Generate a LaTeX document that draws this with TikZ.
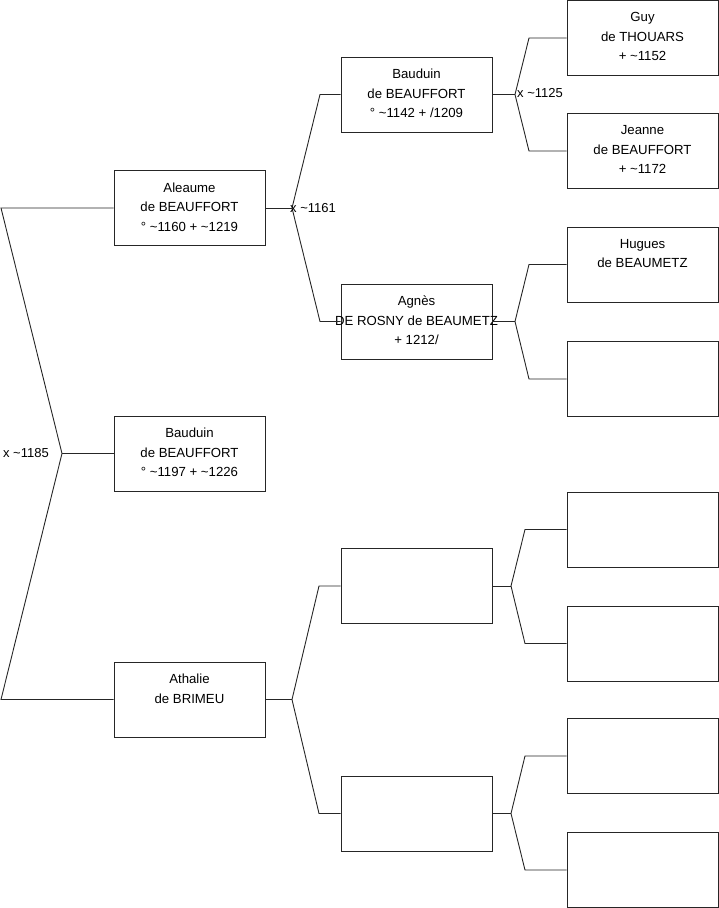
\documentclass[tikz,border=0pt]{standalone}
\usepackage{fontspec}
\setmainfont{Liberation Sans}
\newcommand{\tld}{\textasciitilde}

\begin{document}
\begin{tikzpicture}[x=1pt, y=-1pt,
    box/.style={draw=black!85, line width=0.9pt, minimum width=151pt,
                minimum height=75pt, inner sep=0pt},
    who/.style={anchor=north, align=center, yshift=-9pt,
                font=\fontsize{13.2}{19.5}\selectfont},
    link/.style={draw=black!85, line width=0.9pt},
    mar/.style={inner sep=0pt, font=\fontsize{13}{15}\selectfont}]
    \useasboundingbox (0,0) rectangle (719,908);
    \node[box, label={[who]north:{Aleaume\\de BEAUFFORT\\° \tld1160 + \tld1219}}] (aleaume) at (189.5,208) {};
    \node[box, label={[who]north:{Bauduin\\de BEAUFFORT\\° \tld1197 + \tld1226}}] (bauduin) at (189.5,453.5) {};
    \node[box, label={[who]north:{Athalie\\de BRIMEU}}] (athalie) at (189.5,699.5) {};
    \node[box, label={[who]north:{Bauduin\\de BEAUFFORT\\° \tld1142 + /1209}}] (bauduinP) at (416.5,94.5) {};
    \node[box, label={[who]north:{Agnès\\DE ROSNY de BEAUMETZ\\+ 1212/}}] (agnes) at (416.5,321.5) {};
    \node[box] (athF) at (416.5,586) {};
    \node[box] (athM) at (416.5,813.5) {};
    \node[box, label={[who]north:{Guy\\de THOUARS\\+ \tld1152}}] (guy) at (642.5,38) {};
    \node[box, label={[who]north:{Jeanne\\de BEAUFFORT\\+ \tld1172}}] (jeanne) at (642.5,151) {};
    \node[box, label={[who]north:{Hugues\\de BEAUMETZ}}] (hugues) at (642.5,264.5) {};
    \node[box] (agnM) at (642.5,379) {};
    \node[box] (athFF) at (642.5,529.5) {};
    \node[box] (athFM) at (642.5,643.5) {};
    \node[box] (athMF) at (642.5,756) {};
    \node[box] (athMM) at (642.5,870) {};

    \coordinate (j0) at (62,453.5);
    \coordinate (j0a) at (1,208);
    \coordinate (j0b) at (1,699.5);
    \coordinate (j1) at (292,208);
    \coordinate (j1a) at (320,94.5);
    \coordinate (j1b) at (320,321.5);
    \coordinate (j2) at (292,699.5);
    \coordinate (j2a) at (319,586);
    \coordinate (j2b) at (319,813.5);
    \coordinate (j3) at (515,94.5);
    \coordinate (j3a) at (529,38);
    \coordinate (j3b) at (529,151);
    \coordinate (j4) at (515,321.5);
    \coordinate (j4a) at (529,264.5);
    \coordinate (j4b) at (529,379);
    \coordinate (j5) at (511,586);
    \coordinate (j5a) at (525,529.5);
    \coordinate (j5b) at (525,643.5);
    \coordinate (j6) at (511,813.5);
    \coordinate (j6a) at (525,756);
    \coordinate (j6b) at (525,870);

    \draw[link] (bauduin) -- (j0);
    \draw[link] (j0) -- (j0a) -- (aleaume);
    \draw[link] (j0) -- (j0b) -- (athalie);
    \draw[link] (aleaume) -- (j1);
    \draw[link] (j1) -- (j1a) -- (bauduinP);
    \draw[link] (j1) -- (j1b) -- (agnes);
    \draw[link] (athalie) -- (j2);
    \draw[link] (j2) -- (j2a) -- (athF);
    \draw[link] (j2) -- (j2b) -- (athM);
    \draw[link] (bauduinP) -- (j3);
    \draw[link] (j3) -- (j3a) -- (guy);
    \draw[link] (j3) -- (j3b) -- (jeanne);
    \draw[link] (agnes) -- (j4);
    \draw[link] (j4) -- (j4a) -- (hugues);
    \draw[link] (j4) -- (j4b) -- (agnM);
    \draw[link] (athF) -- (j5);
    \draw[link] (j5) -- (j5a) -- (athFF);
    \draw[link] (j5) -- (j5b) -- (athFM);
    \draw[link] (athM) -- (j6);
    \draw[link] (j6) -- (j6a) -- (athMF);
    \draw[link] (j6) -- (j6b) -- (athMM);

    \node[mar, anchor=east] (m0) at (49,453.5) {x \tld1185};
    \node[mar, anchor=west] (m1) at (290,208) {x \tld1161};
    \node[mar, anchor=west] (m3) at (517,93.5) {x \tld1125};
\end{tikzpicture}
\end{document}
